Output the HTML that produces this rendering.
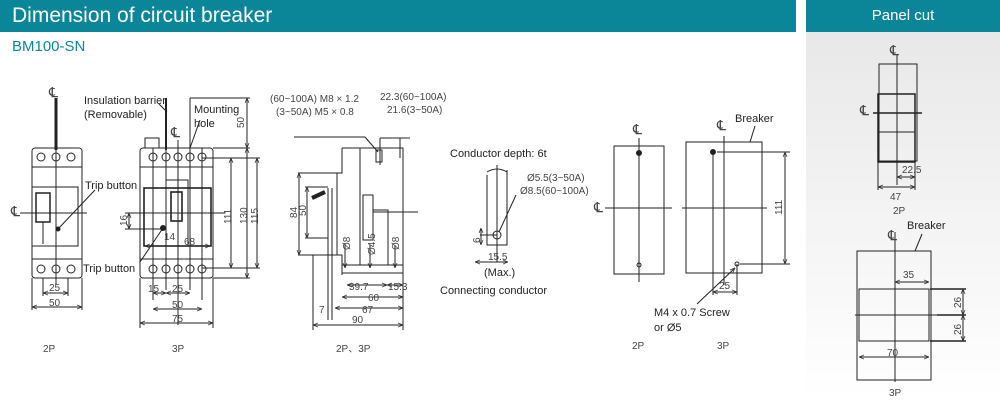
<!DOCTYPE html>
<html><head><meta charset="utf-8"><style>
html,body{margin:0;padding:0;background:#fff;}
body{width:1000px;height:400px;overflow:hidden;position:relative;font-family:"Liberation Sans",sans-serif;}
.hd{position:absolute;top:0;height:32px;background:#0b8699;color:#fff;}
</style></head><body>
<div class="hd" style="left:0;width:796px;"><span style="position:absolute;left:12px;top:4px;font-size:21px;">Dimension of circuit breaker</span></div>
<div style="position:absolute;left:806px;top:32px;width:194px;height:368px;background:linear-gradient(#e8e8e8,#ffffff);"></div>
<div class="hd" style="left:806px;width:194px;"><span style="position:absolute;left:0;width:194px;text-align:center;top:7px;font-size:15px;">Panel cut</span></div>
<div style="position:absolute;left:12px;top:38px;color:#0b8699;font-size:15px;">BM100-SN</div>
<svg width="1000" height="400" style="position:absolute;left:0;top:0" font-family="Liberation Sans, sans-serif">
<defs>
<marker id="a" viewBox="0 0 10 10" refX="10" refY="5" markerWidth="5" markerHeight="5" orient="auto-start-reverse"><path d="M0,1 L10,5 L0,9" fill="none" stroke="#333" stroke-width="1.5"/></marker>
</defs>
<g stroke="#222" fill="none" stroke-width="1">
<!-- 2P front -->
<rect x="32" y="148" width="50" height="130" rx="3"/>
<line x1="32" y1="167" x2="82" y2="167"/><line x1="32" y1="259" x2="82" y2="259"/>
<rect x="32" y="187" width="46" height="59"/>
<rect x="36" y="193" width="14" height="29" stroke-width="1.5"/>
<line x1="43" y1="222" x2="43" y2="244"/>
<circle cx="41" cy="157" r="4"/><circle cx="56" cy="157" r="4"/><circle cx="71" cy="157" r="4"/>
<circle cx="41" cy="269" r="4"/><circle cx="56" cy="269" r="4"/><circle cx="71" cy="269" r="4"/>
<line x1="56" y1="98" x2="56" y2="150" stroke-width="3"/>
<line x1="56" y1="150" x2="56" y2="285"/>
<line x1="20" y1="213" x2="87" y2="213"/>
<circle cx="58" cy="229" r="2" fill="#222"/>
<line x1="58" y1="229" x2="95" y2="190"/>
<line x1="43" y1="278" x2="43" y2="296"/><line x1="68" y1="278" x2="68" y2="296"/>
<line x1="43" y1="293" x2="68" y2="293" marker-start="url(#a)" marker-end="url(#a)"/>
<line x1="32" y1="278" x2="32" y2="310"/><line x1="82" y1="278" x2="82" y2="310"/>
<line x1="32" y1="307" x2="82" y2="307" marker-start="url(#a)" marker-end="url(#a)"/>
<!-- 3P front -->
<rect x="140" y="148" width="73" height="130" rx="3"/>
<rect x="145" y="138" width="14" height="10"/>
<line x1="140" y1="167" x2="213" y2="167"/><line x1="140" y1="259" x2="213" y2="259"/>
<rect x="144" y="188" width="67" height="58" stroke-width="1.6"/>
<rect x="166" y="180" width="22" height="66"/>
<rect x="171" y="192" width="11" height="29" stroke-width="1.6"/>
<circle cx="153" cy="157" r="4"/><circle cx="166" cy="157" r="4"/><circle cx="178" cy="157" r="4"/><circle cx="190" cy="157" r="4"/><circle cx="202" cy="157" r="4"/>
<circle cx="153" cy="269" r="4"/><circle cx="166" cy="269" r="4"/><circle cx="178" cy="269" r="4"/><circle cx="190" cy="269" r="4"/><circle cx="202" cy="269" r="4"/>
<line x1="153" y1="148" x2="153" y2="300"/><line x1="166" y1="140" x2="166" y2="290"/><line x1="178" y1="140" x2="178" y2="325"/><line x1="190" y1="98" x2="190" y2="290"/><line x1="202" y1="148" x2="202" y2="300"/>
<line x1="166" y1="98" x2="166" y2="150" stroke-width="2"/>
<line x1="130" y1="213" x2="225" y2="213"/>
<circle cx="163" cy="228" r="2.5" fill="#222"/>
<line x1="163" y1="228" x2="140" y2="262"/>
<line x1="125" y1="213" x2="140" y2="213"/><line x1="125" y1="229" x2="163" y2="229"/>
<line x1="129" y1="213" x2="129" y2="229" marker-start="url(#a)" marker-end="url(#a)"/>
<line x1="145" y1="246" x2="210" y2="246" marker-start="url(#a)" marker-end="url(#a)"/>
<line x1="213" y1="148" x2="250" y2="148"/><line x1="202" y1="158" x2="260" y2="158"/><line x1="202" y1="268" x2="260" y2="268"/><line x1="213" y1="278" x2="250" y2="278"/>
<line x1="247" y1="98" x2="247" y2="148" marker-start="url(#a)" marker-end="url(#a)"/>
<line x1="190" y1="98" x2="250" y2="98"/>
<line x1="231" y1="158" x2="231" y2="268" marker-start="url(#a)" marker-end="url(#a)"/>
<line x1="247" y1="148" x2="247" y2="278" marker-start="url(#a)" marker-end="url(#a)"/>
<line x1="257" y1="158" x2="257" y2="268" marker-start="url(#a)" marker-end="url(#a)"/>
<line x1="153" y1="293" x2="166" y2="293" marker-start="url(#a)" marker-end="url(#a)"/>
<line x1="166" y1="293" x2="190" y2="293" marker-start="url(#a)" marker-end="url(#a)"/>
<line x1="153" y1="309" x2="202" y2="309" marker-start="url(#a)" marker-end="url(#a)"/>
<line x1="140" y1="278" x2="140" y2="328"/><line x1="213" y1="278" x2="213" y2="328"/>
<line x1="140" y1="323" x2="213" y2="323" marker-start="url(#a)" marker-end="url(#a)"/>
<line x1="167" y1="112" x2="159" y2="104"/>
<line x1="190" y1="148" x2="200" y2="120"/>
<!-- side view -->
<path d="M342,148 L403,148 L403,270 M342,148 L342,173 L337,173 L337,255 L342,255 L342,275"/>
<line x1="360" y1="148" x2="360" y2="265"/>
<rect x="363" y="195" width="10" height="45"/>
<path d="M373,210 L388,210 L388,265"/><line x1="373" y1="212" x2="418" y2="212"/>
<rect x="376" y="150" width="6" height="12"/>
<line x1="403" y1="160" x2="403" y2="250"/><line x1="380" y1="138" x2="380" y2="165"/><line x1="400" y1="138" x2="400" y2="158"/>
<line x1="380" y1="138" x2="410" y2="138"/>
<line x1="294" y1="137" x2="365" y2="137"/><line x1="365" y1="137" x2="378" y2="152"/>
<rect x="342" y="265" width="61" height="8"/>
<line x1="328" y1="188" x2="328" y2="320"/><line x1="332" y1="188" x2="332" y2="320"/>
<line x1="312" y1="198" x2="325" y2="192" stroke-width="4"/>
<line x1="298" y1="173" x2="337" y2="173"/><line x1="298" y1="255" x2="337" y2="255"/>
<line x1="299" y1="173" x2="299" y2="255" marker-start="url(#a)" marker-end="url(#a)"/>
<line x1="305" y1="187" x2="328" y2="187"/><line x1="305" y1="238" x2="328" y2="238"/>
<line x1="307" y1="187" x2="307" y2="238" marker-start="url(#a)" marker-end="url(#a)"/>
<line x1="347" y1="285" x2="387" y2="285" marker-start="url(#a)" marker-end="url(#a)"/>
<line x1="387" y1="285" x2="403" y2="285" marker-start="url(#a)" marker-end="url(#a)"/>
<line x1="342" y1="297" x2="403" y2="297" marker-start="url(#a)" marker-end="url(#a)"/>
<line x1="335" y1="308" x2="403" y2="308" marker-start="url(#a)" marker-end="url(#a)"/>
<line x1="313" y1="325" x2="403" y2="325" marker-start="url(#a)" marker-end="url(#a)"/>
<line x1="313" y1="255" x2="313" y2="330"/><line x1="403" y1="270" x2="403" y2="330"/>
<line x1="345" y1="243" x2="345" y2="268" marker-end="url(#a)"/>
<line x1="370" y1="245" x2="370" y2="268" marker-end="url(#a)"/>
<line x1="395" y1="245" x2="395" y2="268" marker-end="url(#a)"/>
<!-- conductor -->
<path d="M487,175 L487,245 L507,245 L507,170"/>
<path d="M487,172 Q497,166 507,172"/>
<line x1="497" y1="165" x2="497" y2="262"/>
<circle cx="497" cy="235" r="4"/>
<line x1="480" y1="235" x2="497" y2="235"/>
<line x1="499" y1="232" x2="516" y2="195"/>
<line x1="481" y1="228" x2="481" y2="245" marker-start="url(#a)" marker-end="url(#a)"/>
<line x1="475" y1="262" x2="508" y2="262" marker-start="url(#a)" marker-end="url(#a)"/>
<!-- mounting 2P -->
<rect x="614" y="146" width="50" height="128"/>
<line x1="639" y1="138" x2="639" y2="282"/><line x1="605" y1="208" x2="672" y2="208"/>
<circle cx="639" cy="153" r="2.5" fill="#222"/><circle cx="639" cy="265" r="2"/>
<!-- mounting 3P -->
<rect x="686" y="142" width="76" height="131"/>
<line x1="724" y1="136" x2="724" y2="285"/><line x1="682" y1="208" x2="767" y2="208"/>
<line x1="713" y1="152" x2="713" y2="295"/><line x1="737" y1="264" x2="737" y2="295"/>
<circle cx="713" cy="152" r="2.5" fill="#222"/><circle cx="737" cy="264" r="2"/>
<line x1="717" y1="152" x2="790" y2="152"/><line x1="740" y1="264" x2="790" y2="264"/>
<line x1="785" y1="152" x2="785" y2="264" marker-start="url(#a)" marker-end="url(#a)"/>
<line x1="713" y1="292" x2="737" y2="292" marker-start="url(#a)" marker-end="url(#a)"/>
<line x1="755" y1="126" x2="750" y2="142"/>
<line x1="697" y1="304" x2="735" y2="268" marker-end="url(#a)"/>
<!-- panel 2P -->
<rect x="879" y="64" width="38" height="97"/>
<rect x="878" y="94" width="37" height="68" stroke-width="1.5"/>
<line x1="878" y1="132" x2="915" y2="132"/>
<line x1="897" y1="55" x2="897" y2="185"/><line x1="873" y1="113" x2="922" y2="113" stroke-width="1.5"/>
<line x1="897" y1="177" x2="915" y2="177" marker-start="url(#a)" marker-end="url(#a)"/>
<line x1="878" y1="162" x2="878" y2="190"/><line x1="915" y1="162" x2="915" y2="190"/>
<line x1="878" y1="187" x2="915" y2="187" marker-start="url(#a)" marker-end="url(#a)"/>
<!-- panel 3P -->
<rect x="857" y="251" width="74" height="129"/>
<rect x="859" y="289" width="70" height="52"/>
<line x1="895" y1="232" x2="895" y2="382"/><line x1="855" y1="315" x2="937" y2="315"/>
<line x1="930" y1="289" x2="966" y2="289" stroke-width="1.5"/><line x1="937" y1="315" x2="966" y2="315" stroke-width="1.5"/><line x1="930" y1="341" x2="966" y2="341" stroke-width="1.5"/>
<line x1="963" y1="289" x2="963" y2="315" marker-start="url(#a)" marker-end="url(#a)"/>
<line x1="963" y1="315" x2="963" y2="341" marker-start="url(#a)" marker-end="url(#a)"/>
<line x1="895" y1="282" x2="929" y2="282" marker-start="url(#a)" marker-end="url(#a)"/>
<line x1="859" y1="357" x2="929" y2="357" marker-start="url(#a)" marker-end="url(#a)"/>
<line x1="915" y1="251" x2="922" y2="234"/>
</g>
<g fill="#222" font-size="11">
<text x="84" y="104">Insulation barrier</text><text x="84" y="118">(Removable)</text>
<text x="194" y="113">Mounting</text><text x="194" y="127">hole</text>
<text x="85" y="189">Trip button</text><text x="83" y="272">Trip button</text>
<text x="735" y="122">Breaker</text><text x="907" y="229">Breaker</text>
<text x="450" y="157">Conductor depth: 6t</text>
<text x="484" y="276">(Max.)</text><text x="440" y="294">Connecting conductor</text>
<text x="654" y="316">M4 x 0.7 Screw</text><text x="654" y="331">or Ø5</text>
</g>
<g fill="#444" font-size="14">
<text x="49" y="97">℄</text><text x="11" y="216">℄</text><text x="171" y="137">℄</text>
<text x="633" y="134">℄</text><text x="594" y="212">℄</text><text x="717" y="130">℄</text>
<text x="860" y="115">℄</text><text x="890" y="55">℄</text><text x="888" y="240">℄</text>
</g>
<g fill="#444" font-size="10">
<text x="270" y="102">(60~100A) M8 × 1.2</text><text x="276" y="115">(3~50A)  M5 × 0.8</text>
<text x="380" y="100">22.3(60~100A)</text><text x="387" y="113">21.6(3~50A)</text>
<text x="527" y="181">Ø5.5(3~50A)</text><text x="520" y="194">Ø8.5(60~100A)</text>
<text x="49" y="291">25</text><text x="49" y="306">50</text>
<text x="148" y="292">15</text><text x="172" y="292">25</text><text x="172" y="308">50</text><text x="172" y="322">75</text>
<text x="164" y="240">14</text><text x="184" y="245">68</text>
<text x="349" y="290">39.7</text><text x="388" y="290">15.3</text><text x="368" y="301">60</text><text x="362" y="313">67</text><text x="352" y="323">90</text><text x="319" y="313">7</text>
<text x="488" y="260">15.5</text><text x="719" y="289">25</text>
<text x="902" y="173">22.5</text><text x="890" y="200">47</text><text x="903" y="278">35</text><text x="887" y="356">70</text>
<text x="43" y="352">2P</text><text x="172" y="352">3P</text><text x="336" y="352">2P、3P</text><text x="632" y="349">2P</text><text x="717" y="349">3P</text>
<text x="893" y="214">2P</text><text x="889" y="396">3P</text>
<text transform="translate(244,128) rotate(-90)">50</text>
<text transform="translate(231,224) rotate(-90)">111</text>
<text transform="translate(247,224) rotate(-90)">130</text>
<text transform="translate(258,224) rotate(-90)">115</text>
<text transform="translate(127,226) rotate(-90)">16</text>
<text transform="translate(297,218) rotate(-90)">84</text>
<text transform="translate(306,216) rotate(-90)">50</text>
<text transform="translate(350,250) rotate(-90)">Ø8</text>
<text transform="translate(375,255) rotate(-90)">Ø4.5</text>
<text transform="translate(399,250) rotate(-90)">Ø8</text>
<text transform="translate(480,243) rotate(-90)">6</text>
<text transform="translate(782,215) rotate(-90)">111</text>
<text transform="translate(961,308) rotate(-90)">26</text>
<text transform="translate(961,335) rotate(-90)">26</text>
</g>
</svg>
</body></html>
